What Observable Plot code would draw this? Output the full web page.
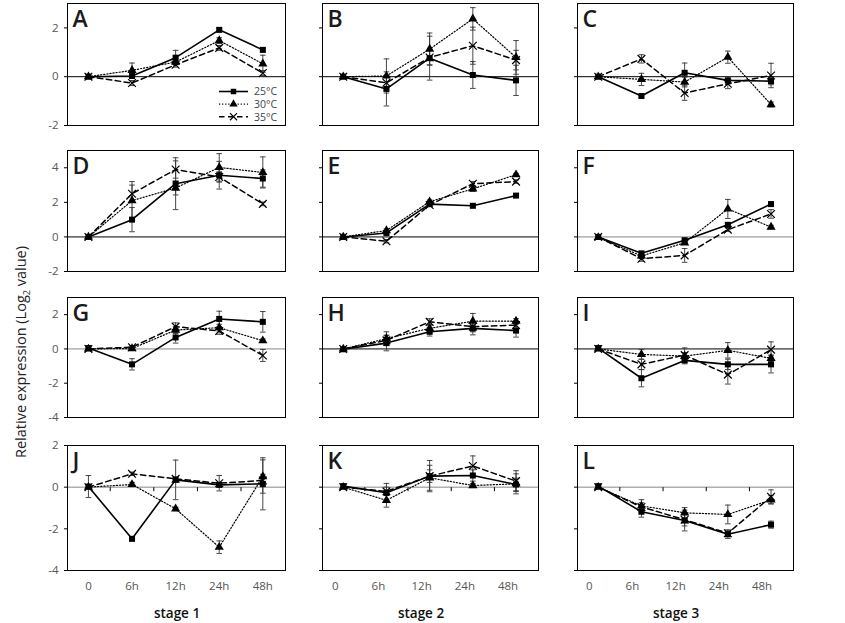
<!DOCTYPE html>
<html><head><meta charset="utf-8">
<script src="https://cdn.jsdelivr.net/npm/d3@7"></script>
<script src="https://cdn.jsdelivr.net/npm/@observablehq/plot@0.6"></script>
<style>
body{margin:0;background:#fff;}
#chart{position:relative;width:845px;height:623px;font-family:"Open Sans",sans-serif;overflow:hidden;}
#chart > .abs{position:absolute;}
</style></head><body><div id="chart"></div>
<script>
// ---------------- data ----------------
const panels = ["A","B","C","D","E","F","G","H","I","J","K","L"];
const times = ["0","6h","12h","24h","48h"];
const seriesNames = ["25°C","30°C","35°C"];
const stages = ["stage 1","stage 2","stage 3"];
const rowYDomains = [[-2,3],[-2,5],[-4,3],[-4,2]];
const rowYTicks = [[-2,0,2],[-2,0,2,4],[-4,-2,0,2],[-4,-2,0,2]];

// means per panel (A..L), 5 time points each
const mean25 = [
  [0, 0.03, 0.78, 1.92, 1.10],
  [0, -0.5, 0.76, 0.07, -0.15],
  [0, -0.79, 0.16, -0.15, -0.18],
  [0, 1.0, 3.08, 3.57, 3.38],
  [0, 0.23, 1.9, 1.8, 2.39],
  [0, -0.95, -0.19, 0.7, 1.9],
  [0.05, -0.9, 0.67, 1.75, 1.58],
  [-0.02, 0.34, 1.0, 1.2, 1.07],
  [0.05, -1.71, -0.67, -0.9, -0.9],
  [0.03, -2.48, 0.35, 0.11, 0.16],
  [0.05, -0.27, 0.53, 0.56, 0.13],
  [0.05, -1.18, -1.6, -2.26, -1.8]
];
const mean30 = [
  [0, 0.26, 0.6, 1.48, 0.53],
  [0, 0.03, 1.13, 2.37, 0.79],
  [0, -0.11, -0.22, 0.8, -1.14],
  [0, 2.1, 2.83, 4.02, 3.73],
  [0, 0.37, 2.04, 2.78, 3.6],
  [-0.03, -1.1, -0.34, 1.62, 0.57],
  [0, 0.02, 1.1, 1.24, 0.48],
  [0, 0.6, 1.2, 1.62, 1.62],
  [0, -0.32, -0.42, -0.08, -0.55],
  [0, 0.13, -1.04, -2.88, 0.51],
  [0, -0.63, 0.45, 0.08, 0.16],
  [0, -0.9, -1.23, -1.31, -0.61]
];
const mean35 = [
  [0, -0.26, 0.49, 1.18, 0.15],
  [0, -0.25, 0.79, 1.27, 0.68],
  [0, 0.73, -0.67, -0.29, 0.05],
  [0, 2.5, 3.9, 3.47, 1.91],
  [0, -0.25, 1.85, 3.08, 3.2],
  [0, -1.26, -1.07, 0.42, 1.33],
  [0, 0.1, 1.3, 1.05, -0.38],
  [0, 0.5, 1.58, 1.3, 1.39],
  [0, -0.9, -0.36, -1.5, -0.04],
  [0, 0.64, 0.4, 0.19, 0.32],
  [0, -0.2, 0.53, 1.02, 0.29],
  [0, -0.95, -1.56, -2.21, -0.46]
];
const err25 = [
  [0, 0.1, 0.3, 0.08, 0.08],
  [0, 0.7, 0.9, 0.55, 0.62],
  [0, 0.05, 0.4, 0.15, 0.15],
  [0, 0.7, 1.5, 0.8, 0.5],
  [0, 0.1, 0.1, 0.08, 0.08],
  [0, 0.1, 0.1, 0.1, 0.1],
  [0, 0.33, 0.33, 0.45, 0.6],
  [0, 0.45, 0.25, 0.38, 0.38],
  [0, 0.5, 0.2, 0.3, 0.5],
  [0.53, 0.05, 0.95, 0.1, 1.25],
  [0, 0.45, 0.3, 0.27, 0.3],
  [0, 0.26, 0.5, 0.2, 0.17]
];
const err30 = [
  [0, 0.3, 0.1, 0.12, 0.35],
  [0, 0.7, 0.66, 0.46, 0.69],
  [0, 0.25, 0.2, 0.25, 0.1],
  [0, 1.1, 0.4, 0.8, 0.9],
  [0, 0.1, 0.1, 0.15, 0.08],
  [0, 0.15, 0.1, 0.55, 0.1],
  [0, 0.1, 0.2, 0.2, 0.1],
  [0, 0.4, 0.2, 0.45, 0.15],
  [0, 0.28, 0.2, 0.45, 0.2],
  [0, 0.1, 0.08, 0.3, 0.8],
  [0, 0.33, 0.6, 0.1, 0.48],
  [0, 0.3, 0.25, 0.45, 0.2]
];
const err35 = [
  [0, 0.1, 0.1, 0.1, 0.1],
  [0, 0.3, 0.3, 0.76, 0.4],
  [0, 0.17, 0.3, 0.2, 0.5],
  [0, 0.5, 0.5, 0.3, 0.1],
  [0, 0.1, 0.1, 0.12, 0.1],
  [0, 0.15, 0.4, 0.1, 0.25],
  [0, 0.1, 0.22, 0.2, 0.35],
  [0, 0.3, 0.18, 0.3, 0.2],
  [0, 0.3, 0.42, 0.55, 0.45],
  [0, 0.08, 0.1, 0.37, 0.3],
  [0, 0.2, 0.75, 0.48, 0.5],
  [0, 0.2, 0.3, 0.15, 0.33]
];

// ---------------- layout / style ----------------
const colFrameX = [[67,285],[322,538],[577,793]];
const rowFrameY = [[3,125],[150,271],[297,417],[445,570]];
const colTickDx = [0,-8,-9];
const zeroColor = ["#000","#000","#000","#000","#000","#888","#888","#000","#000","#888","#888","#888"];
const means = [mean25, mean30, mean35];
const errs = [err25, err30, err35];
const lineStyle = [
  {dash: null, w: 1.6},
  {dash: "1.2,1.9", w: 1.2},
  {dash: "5.5,3.5", w: 1.5}
];

const capSym = {draw(ctx, size){const w = Math.sqrt(size/Math.PI); ctx.moveTo(-w,0); ctx.lineTo(w,0);}};
const vTickSym = {draw(ctx, size){const h = Math.sqrt(size/Math.PI); ctx.moveTo(0,0); ctx.lineTo(0,h);}};

const chart = document.getElementById("chart");

panels.forEach((label, p) => {
  const r = Math.floor(p/3), c = p % 3;
  const [fx0, fx1] = colFrameX[c];
  const [fy0, fy1] = rowFrameY[r];
  const ml = 40, mr = 4, mt = 4, mb = r === 3 ? 26 : 4;
  const rows = [];
  for (let s = 0; s < 3; s++)
    for (let t = 0; t < 5; t++)
      rows.push({s, i: t, v: means[s][p][t], e: errs[s][p][t]});
  const ser = s => rows.filter(d => d.s === s);

  const marks = [
    Plot.ruleY([0], {stroke: zeroColor[p], strokeWidth: 1}),
    Plot.axisY(rowYTicks[r], {
      label: null, tickSize: 3, tickPadding: 6, fontSize: 11.5, stroke: "#000", fill: "#555",
      tickFormat: c === 0 ? (d => String(d)) : (() => "")
    }),
    Plot.ruleX(rows.filter(d => d.e > 0), {x: "i", y1: d => d.v - d.e, y2: d => d.v + d.e, stroke: "#333", strokeWidth: 0.9}),
    Plot.dot(rows.filter(d => d.e > 0), {x: "i", y: d => d.v - d.e, symbol: capSym, r: 2.8, stroke: "#333", strokeWidth: 0.9}),
    Plot.dot(rows.filter(d => d.e > 0), {x: "i", y: d => d.v + d.e, symbol: capSym, r: 2.8, stroke: "#333", strokeWidth: 0.9})
  ];
  [0,1,2].forEach(s => {
    marks.push(Plot.line(ser(s), {x: "i", y: "v", stroke: "#000", strokeWidth: lineStyle[s].w, strokeDasharray: lineStyle[s].dash}));
  });
  marks.push(Plot.dot(ser(2), {x: "i", y: "v", symbol: "times", r: 3.6, stroke: "#000", strokeWidth: 1.2}));
  marks.push(Plot.dot(ser(1), {x: "i", y: "v", symbol: "triangle", r: 3.4, fill: "#000"}));
  marks.push(Plot.dot(ser(0), {x: "i", y: "v", symbol: "square", r: 3.4, fill: "#000"}));
  if (r === 3) {
    marks.push(Plot.dot([0.5,1.5,2.5,3.5], {x: d => d, y: () => 0, symbol: vTickSym, r: 4, stroke: "#000", strokeWidth: 1}));
    marks.push(Plot.axisX(d3.range(5), {label: null, tickSize: 0, tickPadding: 11, fontSize: 11.5, fill: "#555", dx: colTickDx[c], tickFormat: i => times[i]}));
  }
  marks.push(Plot.frame({stroke: "#000", strokeWidth: 1}));
  marks.push(Plot.text([label], {frameAnchor: "top-left", text: d => d, dx: 5, dy: 7, fontSize: 23, fontWeight: 600, fill: "#1a1a1a", textAnchor: "start", lineAnchor: "top"}));

  const svg = Plot.plot({
    width: fx1 - fx0 + ml + mr,
    height: fy1 - fy0 + mt + mb,
    marginLeft: ml, marginRight: mr, marginTop: mt, marginBottom: mb,
    x: {type: "linear", domain: [-0.48, 4.52], axis: null},
    y: {domain: rowYDomains[r], axis: null},
    style: {fontFamily: "Open Sans, sans-serif", background: "transparent", overflow: "visible"},
    marks
  });
  svg.classList.add("abs");
  svg.style.left = (fx0 - ml) + "px";
  svg.style.top = (fy0 - mt) + "px";
  chart.appendChild(svg);
});

// legend inside panel A
(function(){
  const lg = d3.create("svg").attr("class","abs").attr("width",70).attr("height",42)
    .style("left","214px").style("top","84px").style("overflow","visible");
  seriesNames.forEach((name, s) => {
    const y = 7.5 + s*12.6;
    lg.append("line").attr("x1",5).attr("x2",34).attr("y1",y).attr("y2",y)
      .attr("stroke","#000").attr("stroke-width",lineStyle[s].w)
      .attr("stroke-dasharray",lineStyle[s].dash);
    const sym = [d3.symbolSquare, d3.symbolTriangle, d3.symbolTimes][s];
    const path = lg.append("path").attr("d", d3.symbol(sym, s===2 ? 34 : 30)()).attr("transform",`translate(19.5,${y})`);
    if (s === 2) path.attr("fill","none").attr("stroke","#000").attr("stroke-width",1.2);
    else path.attr("fill","#000");
    lg.append("text").attr("x",40).attr("y",y+3.8).attr("font-size",10.5).attr("fill","#444")
      .attr("font-family","Open Sans, sans-serif").text(name);
  });
  chart.appendChild(lg.node());
})();

// y axis title
const yt = document.createElement("div");
yt.className = "abs";
yt.style.cssText = "left:22px;top:352px;transform:translate(-50%,-50%) rotate(-90deg);white-space:nowrap;font-size:14.5px;color:#222;";
yt.innerHTML = "Relative expression (Log<sub style='font-size:9px'>2</sub> value)";
chart.appendChild(yt);

// stage titles
stages.forEach((s, c) => {
  const d = document.createElement("div");
  d.className = "abs";
  const cx = [177, 421, 676][c];
  d.style.cssText = `left:${cx}px;top:613px;transform:translate(-50%,-50%);white-space:nowrap;font-size:13.5px;font-weight:600;color:#111;`;
  d.textContent = s;
  chart.appendChild(d);
});
</script>
</body></html>
